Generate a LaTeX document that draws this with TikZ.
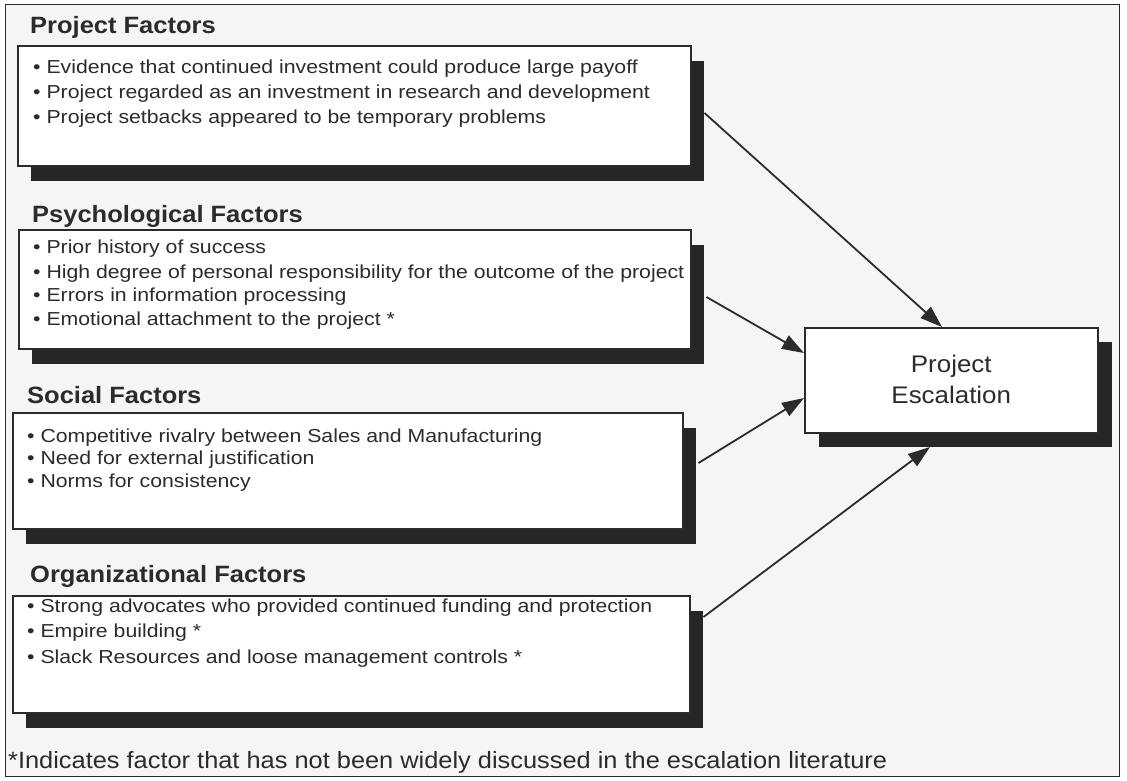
\documentclass[tikz,border=0pt]{standalone}
\usepackage{fontspec}
\setmainfont{Liberation Sans}
\newfontfamily\widefont[FakeStretch=1.08]{Liberation Sans}
\newfontfamily\widerfont[FakeStretch=1.13]{Liberation Sans}
\usetikzlibrary{arrows.meta,shadows,calc}
\definecolor{ink}{HTML}{2B2B2B}
\definecolor{paper}{HTML}{F5F5F3}
\definecolor{shade}{HTML}{262626}
\begin{document}
\begin{tikzpicture}[x=1pt,y=-1pt,
  fbox/.style={draw=ink, line width=1.5pt, fill=white, inner sep=0pt, anchor=north west,
    drop shadow={shadow xshift=13pt, shadow yshift=-15pt, fill=shade, opacity=1}},
  ebox/.style={draw=ink, line width=1.5pt, fill=white, inner sep=0pt, anchor=north west,
    drop shadow={shadow xshift=14pt, shadow yshift=-14pt, fill=shade, opacity=1}},
  ftitle/.style={anchor=base west, font=\widefont\fontsize{23.6}{28}\selectfont\bfseries, text=ink, inner sep=0pt},
  blist/.style={anchor=base west, align=left, font=\widerfont\fontsize{18.8}{25}\selectfont, text=ink, inner sep=0pt},
  arr/.style={draw=ink, line width=1.8pt, -{Triangle[length=22pt,width=15pt]}}]
\useasboundingbox (0,0) rectangle (1127,780);
\draw[ink, line width=1pt, fill=paper] (5,4) rectangle (1119,776);

% boxes
\node[fbox, minimum width=673pt, minimum height=120pt] (b1) at (17,45) {};
\node[fbox, minimum width=672pt, minimum height=119pt] (b2) at (18,229) {};
\node[fbox, minimum width=670pt, minimum height=116pt] (b3) at (12,412) {};
\node[fbox, minimum width=677pt, minimum height=117pt] (b4) at (12,595) {};
\node[ebox, minimum width=293pt, minimum height=105pt] (esc) at (804,327) {};
\node[font=\widefont\fontsize{24}{31}\selectfont, text=ink, align=center] (esct) at ($(esc.center)+(0,-1)$) {Project\\Escalation};

% titles
\node[ftitle] (t1) at (30,33) {Project Factors};
\node[ftitle] (t2) at (32,222) {Psychological Factors};
\node[ftitle] (t3) at (27,403) {Social Factors};
\node[ftitle] (t4) at (30,582) {Organizational Factors};

% bullets
\node[blist] (l11) at (33,73) {• Evidence that continued investment could produce large payoff};
\node[blist] (l12) at (33,98) {• Project regarded as an investment in research and development};
\node[blist] (l13) at (33,123) {• Project setbacks appeared to be temporary problems};
\node[blist] (l21) at (33,253) {• Prior history of success};
\node[blist] (l22) at (33,278) {• High degree of personal responsibility for the outcome of the project};
\node[blist] (l23) at (33,301) {• Errors in information processing};
\node[blist] (l24) at (33,325) {• Emotional attachment to the project *};
\node[blist] (l31) at (27,442) {• Competitive rivalry between Sales and Manufacturing};
\node[blist] (l32) at (27,464) {• Need for external justification};
\node[blist] (l33) at (27,487) {• Norms for consistency};
\node[blist] (l41) at (27,612) {• Strong advocates who provided continued funding and protection};
\node[blist] (l42) at (27,637) {• Empire building *};
\node[blist] (l43) at (27,663) {• Slack Resources and loose management controls *};

% footnote
\node[anchor=base west, inner sep=0pt, font=\widefont\fontsize{23.5}{28}\selectfont, text=ink] (fn) at (8,768)
  {*Indicates factor that has not been widely discussed in the escalation literature};

% arrows
\draw[arr] ($(b1.north east)+(13,68)$) -- ($(esc.north west)+(138,0)$);
\draw[arr] ($(b2.north east)+(15,68)$) -- ($(esc.north west)+(0,26)$);
\draw[arr] ($(b3.north east)+(15,51)$) -- ($(esc.north west)+(0,71)$);
\draw[arr] ($(b4.north east)+(13,22)$) -- ($(esc.north west)+(126,120)$);
\end{tikzpicture}
\end{document}
